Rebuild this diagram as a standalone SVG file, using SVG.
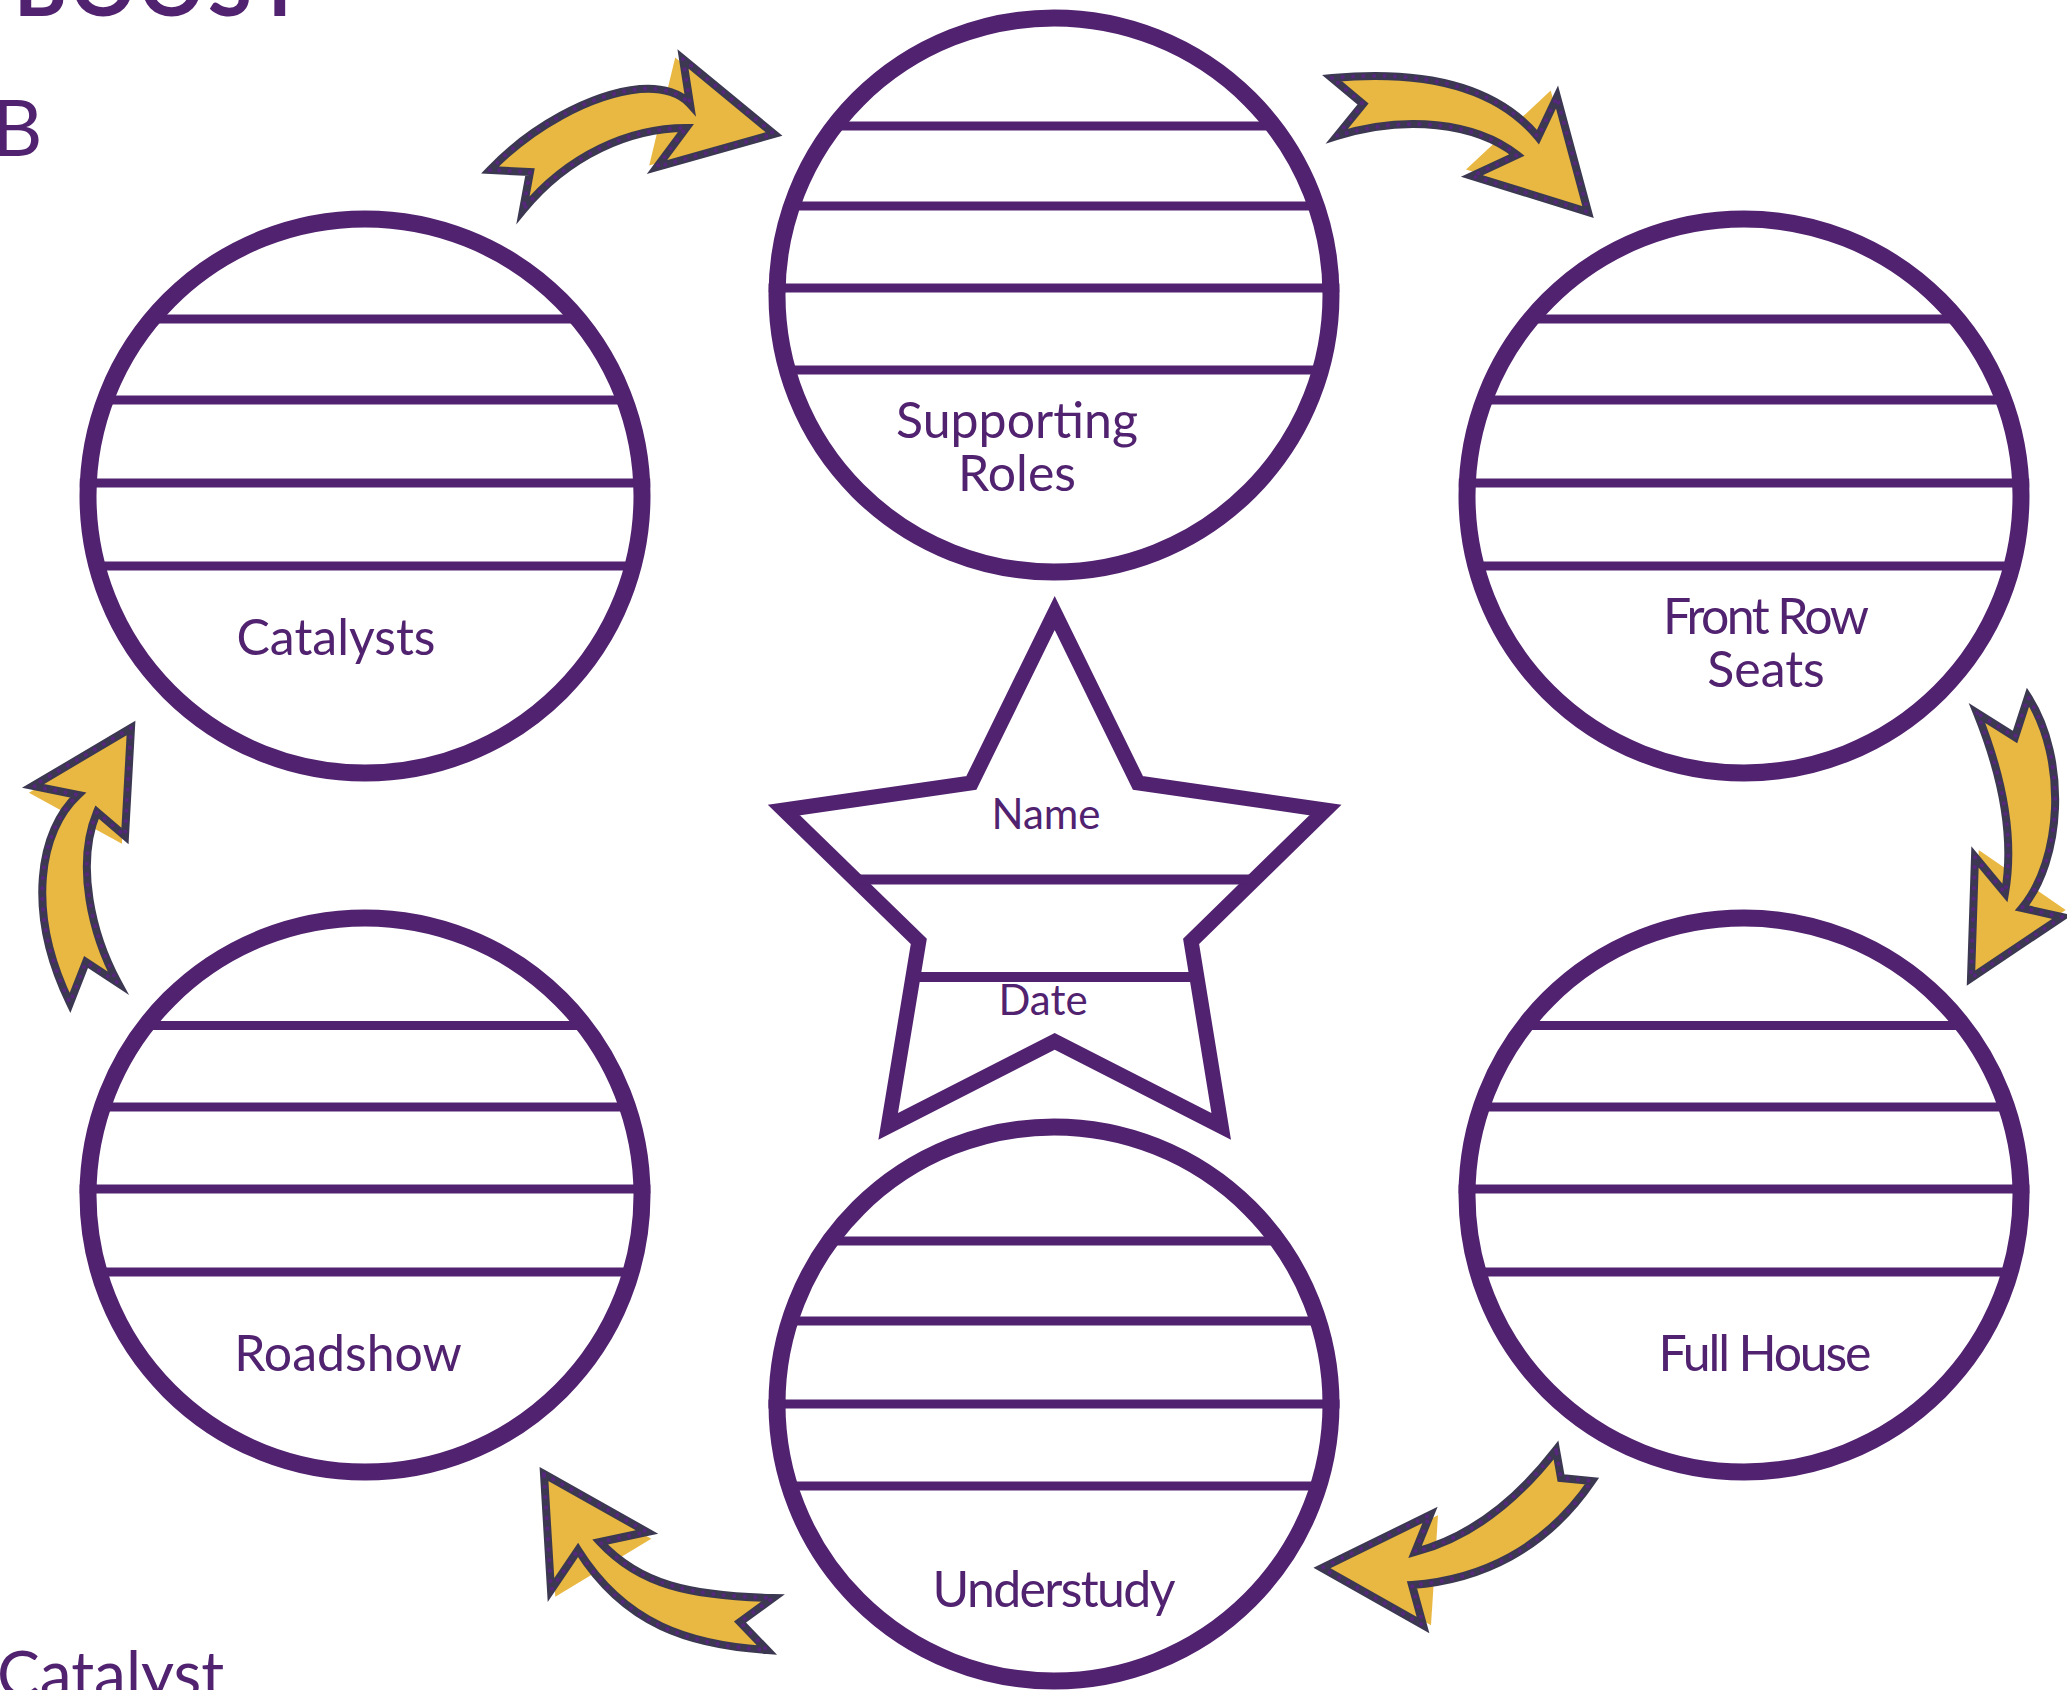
<svg xmlns="http://www.w3.org/2000/svg" width="2067" height="1690" viewBox="0 0 2067 1690">
<style>
.bg{fill:#fff;stroke:none}
.ring{fill:none;stroke:#51226F;stroke-width:17}
.ln{stroke:#51226F;stroke-width:9;fill:none}
.lbl{font-family:Lato,"Noto Sans",sans-serif;font-size:50px;fill:#51226F;text-anchor:middle}
.slbl{font-family:Lato,"Noto Sans",sans-serif;font-size:42px;fill:#51226F;text-anchor:middle}
.hd{font-family:Lato,"Noto Sans",sans-serif;fill:#51226F}
.star{fill:#fff;stroke:#51226F;stroke-width:15;stroke-linejoin:miter;stroke-miterlimit:10}
.sln{stroke:#51226F;stroke-width:10;fill:none}
.arw{fill:#E9B843;stroke:#3C3852;stroke-width:8;stroke-linejoin:miter;stroke-miterlimit:10}
.dots{fill:none;stroke:#57267E;stroke-width:4.2;stroke-linecap:round;stroke-dasharray:0 10.5}
.ext{fill:#E9B843}
</style>
<rect width="2067" height="1690" fill="#fff"/>
<g id="headings">
<text class="hd" x="14" y="16" font-size="80" font-weight="700" letter-spacing="4">BOOST</text>
<text class="hd" x="-8" y="156" font-size="78">B</text>
<text class="hd" x="-3" y="1697" font-size="64">Catalyst</text>
</g>
<g id="node-supporting-roles">
<circle class="bg" cx="1054" cy="295" r="277"/>
<line class="ln" x1="834.5" y1="126" x2="1273.5" y2="126"/>
<line class="ln" x1="791.7" y1="206" x2="1316.3" y2="206"/>
<line class="ln" x1="768.6" y1="288" x2="1339.4" y2="288"/>
<line class="ln" x1="787.3" y1="370" x2="1320.7" y2="370"/>
<circle class="ring" cx="1054" cy="295" r="277"/>
<text class="lbl" x="1017" y="438">Supporting</text>
<text class="lbl" x="1017" y="491">Roles</text>
</g>
<g id="node-catalysts">
<circle class="bg" cx="365" cy="496" r="277"/>
<line class="ln" x1="151.9" y1="319" x2="578.1" y2="319"/>
<line class="ln" x1="105.2" y1="400" x2="624.8" y2="400"/>
<line class="ln" x1="79.8" y1="483" x2="650.2" y2="483"/>
<line class="ln" x1="97" y1="566" x2="633" y2="566"/>
<circle class="ring" cx="365" cy="496" r="277"/>
<text class="lbl" x="336" y="655">Catalysts</text>
</g>
<g id="node-front-row-seats">
<circle class="bg" cx="1744" cy="496" r="277"/>
<line class="ln" x1="1530.9" y1="319" x2="1957.1" y2="319"/>
<line class="ln" x1="1484.2" y1="400" x2="2003.8" y2="400"/>
<line class="ln" x1="1458.8" y1="483" x2="2029.2" y2="483"/>
<line class="ln" x1="1476" y1="566" x2="2012" y2="566"/>
<circle class="ring" cx="1744" cy="496" r="277"/>
<text class="lbl" x="1766" y="634" textLength="206" lengthAdjust="spacing">Front Row</text>
<text class="lbl" x="1766" y="687">Seats</text>
</g>
<g id="node-roadshow">
<circle class="bg" cx="365" cy="1195" r="277"/>
<line class="ln" x1="145.9" y1="1025.5" x2="584.1" y2="1025.5"/>
<line class="ln" x1="102.4" y1="1107" x2="627.6" y2="1107"/>
<line class="ln" x1="79.6" y1="1189" x2="650.4" y2="1189"/>
<line class="ln" x1="98.9" y1="1272" x2="631.1" y2="1272"/>
<circle class="ring" cx="365" cy="1195" r="277"/>
<text class="lbl" x="348" y="1371">Roadshow</text>
</g>
<g id="node-full-house">
<circle class="bg" cx="1744" cy="1195" r="277"/>
<line class="ln" x1="1524.9" y1="1025.5" x2="1963.1" y2="1025.5"/>
<line class="ln" x1="1481.4" y1="1107" x2="2006.6" y2="1107"/>
<line class="ln" x1="1458.6" y1="1189" x2="2029.4" y2="1189"/>
<line class="ln" x1="1477.9" y1="1272" x2="2010.1" y2="1272"/>
<circle class="ring" cx="1744" cy="1195" r="277"/>
<text class="lbl" x="1765" y="1371" textLength="213" lengthAdjust="spacing">Full House</text>
</g>
<g id="node-understudy">
<circle class="bg" cx="1054" cy="1404" r="277"/>
<line class="ln" x1="830" y1="1241" x2="1278" y2="1241"/>
<line class="ln" x1="789.7" y1="1321" x2="1318.3" y2="1321"/>
<line class="ln" x1="768.5" y1="1404" x2="1339.5" y2="1404"/>
<line class="ln" x1="789.4" y1="1486" x2="1318.6" y2="1486"/>
<circle class="ring" cx="1054" cy="1404" r="277"/>
<text class="lbl" x="1054" y="1607" textLength="243" lengthAdjust="spacing">Understudy</text>
</g>
<g id="node-star">
<polygon class="star" points="1054.7,613 1137.9,782.9 1325.4,810 1191.1,941.4 1221.2,1126.4 1054.7,1041.3 888.2,1126.4 918.8,941.4 783.9,810 971.4,782.9"/>
<line class="sln" x1="855" y1="879.5" x2="1254" y2="879.5"/>
<line class="sln" x1="913" y1="977" x2="1196" y2="977"/>
<text class="slbl" x="1046" y="829">Name</text>
<text class="slbl" x="1043" y="1015">Date</text>
</g>
<g id="connectors">
<g id="arrow-catalysts-supporting">
<polygon class="ext" points="675.2,57.4 766.2,132.4 649.2,165.4"/>
<path class="arw" d="M490 170 C530 128 590 94 640 89 C664 87 681 94 690 104 L683 59 L774 134 L657 167 L686 128 C630 128 568 155 523 210 L530 172 Z"/>
<path class="dots" d="M490 170 C530 128 590 94 640 89 C664 87 681 94 690 104 L683 59 L774 134 L657 167 L686 128 C630 128 568 155 523 210 L530 172 Z"/>
</g>
<g id="arrow-supporting-frontrow">
<polygon class="ext" points="1550.7,90.5 1582,205.5 1466,169.5"/>
<path class="arw" d="M1332 78 C1420 70 1495 85 1538 137 L1557 97 L1588 212 L1472 176 L1517 155 C1475 122 1405 115 1337 136 L1363 104 Z"/>
<path class="dots" d="M1332 78 C1420 70 1495 85 1538 137 L1557 97 L1588 212 L1472 176 L1517 155 C1475 122 1405 115 1337 136 L1363 104 Z"/>
</g>
<g id="arrow-frontrow-fullhouse">
<polygon class="ext" points="1978.7,849.9 1974.7,970.9 2065.7,909.9"/>
<path class="arw" d="M1977 713 C1998 765 2016 830 2005 893 L1975 857 L1971 978 L2062 917 L2022 908 C2062 860 2068 760 2028 697 L2015 737 Z"/>
<path class="dots" d="M1977 713 C1998 765 2016 830 2005 893 L1975 857 L1971 978 L2062 917 L2022 908 C2062 860 2068 760 2028 697 L2015 737 Z"/>
</g>
<g id="arrow-fullhouse-understudy">
<polygon class="ext" points="1438,1515.2 1330,1568.2 1431,1625.2"/>
<path class="arw" d="M1556 1450 C1525 1490 1480 1535 1415 1552 L1430 1515 L1322 1568 L1423 1625 L1412 1585 C1480 1580 1545 1550 1592 1481 L1561 1478 Z"/>
<path class="dots" d="M1556 1450 C1525 1490 1480 1535 1415 1552 L1430 1515 L1322 1568 L1423 1625 L1412 1585 C1480 1580 1545 1550 1592 1481 L1561 1478 Z"/>
</g>
<g id="arrow-understudy-roadshow">
<polygon class="ext" points="548.3,1480.8 651.3,1538.8 555.3,1596.8"/>
<path class="arw" d="M544 1474 L647 1532 L600 1542 C640 1585 690 1596 773 1598 L740 1622 L767 1650 C690 1645 625 1625 578 1550 L551 1590 Z"/>
<path class="dots" d="M544 1474 L647 1532 L600 1542 C640 1585 690 1596 773 1598 L740 1622 L767 1650 C690 1645 625 1625 578 1550 L551 1590 Z"/>
</g>
<g id="arrow-roadshow-catalysts">
<polygon class="ext" points="126.9,734.8 28.9,792.8 121.9,843.8"/>
<path class="arw" d="M131 728 L33 786 L78 795 C40 830 25 910 70 1003 L86 962 L118 983 C92 935 75 865 97 812 L125 836 Z"/>
<path class="dots" d="M131 728 L33 786 L78 795 C40 830 25 910 70 1003 L86 962 L118 983 C92 935 75 865 97 812 L125 836 Z"/>
</g>
</g>
</svg>
